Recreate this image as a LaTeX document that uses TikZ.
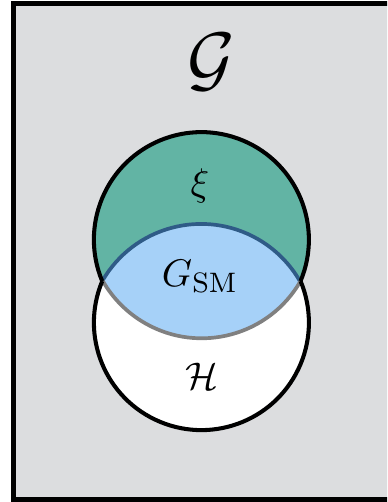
\documentclass[tikz,border=0pt]{standalone}
\usepackage{tikz}

\definecolor{bggray}{HTML}{DCDDDF}
\definecolor{xigreen}{HTML}{62B4A4}
\definecolor{smblue}{HTML}{A6D1F8}
\definecolor{lenstop}{HTML}{2F5B87}
\definecolor{lensbot}{HTML}{808080}

\tikzset{
    lbl/.style={font=\fontsize{11}{13}\selectfont, anchor=base, inner sep=0pt},
    outline/.style={line width=1.15pt, black},
    lensline/.style={line width=1.05pt}
}

\begin{document}
\begin{tikzpicture}[scale=0.01, line width=1.15pt]

    % === bounding box and frame ===
    \useasboundingbox (0,0) rectangle (387,502);
    \clip (0,0) rectangle (387,502);
    \draw[line width=1.3pt, fill=bggray] (13.5,2.5) rectangle (400,498.5);

    % === centres and crossing points ===
    \coordinate (Xi) at (201.5,262.5);
    \coordinate (H) at (201.5,179.5);
    \coordinate (L) at (102.3,221);
    \coordinate (R) at (300.7,221);

    % === the two discs ===
    \fill[xigreen] (Xi) circle (107.5);
    \begin{scope}
        \clip (0,0) rectangle (387,221);
        \fill[white] (H) circle (107.5);
    \end{scope}

    % === the lens G_SM ===
    \fill[smblue] (L) arc (150.1:29.9:114) -- (R) arc (-29.9:-150.1:114) -- cycle;
    \draw[lensline, lenstop] (L) arc (150.1:29.9:114);
    \draw[lensline, lensbot] (R) arc (-29.9:-150.1:114);

    % === outer outline ===
    \draw[outline] (R) arc (-22.7:202.7:107.5);
    \draw[outline] (L) arc (157.3:382.7:107.5);

    % === labels ===
    \node[lbl, font=\fontsize{22.5}{27}\selectfont] (calG) at (211,418) {$\mathcal{G}$};
    \node[lbl] (xi) at (200,306) {$\xi$};
    \node[lbl] (gsm) at (200,215) {$G_{\mathrm{SM}}$};
    \node[lbl] (calH) at (202,112) {$\mathcal{H}$};

\end{tikzpicture}
\end{document}
